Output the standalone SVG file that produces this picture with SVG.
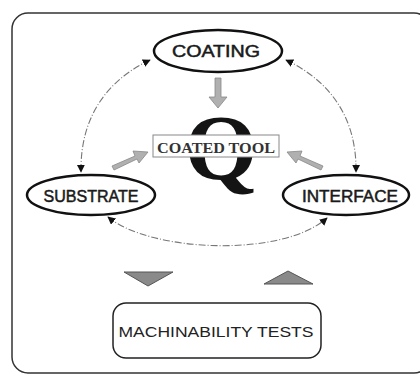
<svg xmlns="http://www.w3.org/2000/svg" width="420" height="376" viewBox="0 0 420 376">
  <defs>
    <style>
      .node { fill: #fff; stroke: #111; stroke-width: 2.5; }
      .lbl { font-family: "Liberation Sans", Arial, sans-serif; font-size: 16px; fill: #1a1a1a; stroke: #1a1a1a; stroke-width: 0.5; text-anchor: middle; }
      .link { fill: none; stroke: #777; stroke-width: 1.1; stroke-dasharray: 7 2 1 2; }
      .block { fill: #b0b0b0; stroke: #888; stroke-width: 0.8; }
      .tri { fill: #8a8a8a; stroke: #555; stroke-width: 1; }
    </style>
    <marker id="head" viewBox="0 0 10 10" refX="9" refY="5" markerWidth="8" markerHeight="8" orient="auto-start-reverse" markerUnits="userSpaceOnUse">
      <path d="M0,0 L10,5 L0,10 z" fill="#111"/>
    </marker>
  </defs>

  <!-- outer frame -->
  <rect x="12" y="13" width="418" height="360" rx="16" fill="#fff" stroke="#333" stroke-width="1.5"/>

  <!-- central emblem, partly hidden by the tool label -->
  <g id="emblem">
    <text x="221" y="179" font-family="Liberation Serif, 'Times New Roman', serif" font-weight="bold" font-size="94" fill="#141414" text-anchor="middle">Q</text>
  </g>

  <!-- connectors -->
  <g id="connectors">
    <path class="link" d="M150,60 C112,78 80,112 81,172" marker-start="url(#head)" marker-end="url(#head)"/>
    <path class="link" d="M286,60 C324,78 357,112 356,172" marker-start="url(#head)" marker-end="url(#head)"/>
    <path class="link" d="M108,217 C150,252 282,258 327,218" marker-start="url(#head)" marker-end="url(#head)"/>
    <!-- block arrows toward the coated tool -->
    <path class="block" d="M215,78 L221,78 L221,97 L227,97 L218,108 L209,97 L215,97 z"/>
    <path class="block" d="M112,166 L135,156 L133,151 L148,152 L139,163 L137,159 L114,170 z"/>
    <path class="block" d="M323,166 L300,156 L302,151 L287,152 L296,163 L298,159 L321,170 z"/>
    <path class="tri" d="M124,272 L173,272 L148,286 z"/>
    <path class="tri" d="M264,284 L313,284 L288,271 z"/>
  </g>

  <g id="coated-tool">
    <rect x="153" y="135" width="126" height="22" fill="#fff" stroke="#888" stroke-width="1"/>
    <text x="216" y="153" font-family="Liberation Serif, 'Times New Roman', serif" font-weight="bold" font-size="15" fill="#333" text-anchor="middle" textLength="118" lengthAdjust="spacingAndGlyphs">COATED TOOL</text>
  </g>

  <g id="coating">
    <ellipse class="node" cx="218" cy="51" rx="64" ry="21"/>
    <text class="lbl" x="216" y="57" textLength="88" lengthAdjust="spacingAndGlyphs">COATING</text>
  </g>

  <g id="substrate">
    <ellipse class="node" cx="91" cy="195" rx="64" ry="20"/>
    <text class="lbl" x="91" y="202" textLength="95" lengthAdjust="spacingAndGlyphs">SUBSTRATE</text>
  </g>

  <g id="interface">
    <ellipse class="node" cx="346" cy="195" rx="63" ry="20"/>
    <text class="lbl" x="350" y="202" textLength="96" lengthAdjust="spacingAndGlyphs">INTERFACE</text>
  </g>

  <g id="machinability-tests">
    <rect x="113" y="303" width="208" height="55" rx="13" fill="#fff" stroke="#222" stroke-width="1.5"/>
    <text x="216" y="337" font-family="Liberation Sans, Arial, sans-serif" font-size="15" fill="#222" text-anchor="middle" textLength="195" lengthAdjust="spacingAndGlyphs">MACHINABILITY  TESTS</text>
  </g>
</svg>
